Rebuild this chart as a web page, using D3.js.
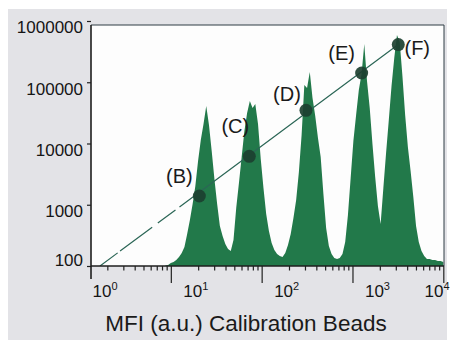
<!DOCTYPE html>
<html>
<head>
<meta charset="utf-8">
<script src="https://cdn.jsdelivr.net/npm/d3@7"></script>
<style>
  body { margin: 0; background: #fff; }
  svg { display: block; font-family: "Liberation Sans", Arial, Helvetica, sans-serif; }
</style>
</head>
<body>
<svg id="chart" width="451" height="340"></svg>
<script>
// histogram: bins on log10(MFI), start + step, counts
const binStart = 0.94;
const binStep = 0.03;
const binCounts = [
  0.5, 1, 3, 4, 6, 9, 13, 19, 32, 46,
  62, 80, 105, 126, 142, 160, 141, 115, 87, 62,
  40, 30, 22, 17, 15, 26, 58, 83, 109, 135,
  153, 165, 158, 162, 142, 107, 78, 52, 35, 23,
  16, 12, 10, 9, 13, 21, 32, 48, 66, 94,
  131, 181, 178, 194, 168, 150, 128, 109, 72, 38,
  20, 12, 8, 7, 8, 12, 24, 51, 88, 125,
  151, 176, 192, 222, 185, 158, 122, 89, 60, 42,
  78, 113, 146, 180, 208, 231, 224, 190, 151, 119,
  95, 69, 40, 24, 15, 10, 7, 7, 6, 6,
  5, 5, 4
];

// calibration beads (peak MFI vs. assigned value)
const beadNames = ["B", "C", "D", "E", "F"];
const beadMfi = [20.6, 73.1, 307.7, 1262, 3193];
const beadValue = [1390, 6180, 34800, 141600, 412000];

// fitted calibration line end points
const fitMfi = [1.66, 3193];
const fitValue = [100, 412000];

const xTicks = [1, 10, 100, 1000, 10000];
const yTicks = [100, 1000, 10000, 100000, 1000000];

const svg = d3.select("#chart");
const plotL = 91, plotR = 444, plotT = 25, plotB = 266;

const x = d3.scaleLog().domain([1, 10000]).range([80, 443.3]);
const y = d3.scaleLog().domain([100, 1000000]).range([266, 21]);
const yCount = d3.scaleLinear().domain([0, 240]).range([266, 26]);

// panel + plot area
svg.append("rect").attr("x", 8).attr("y", 9).attr("width", 439).attr("height", 331)
  .attr("fill", "#e3e3e7");
svg.append("rect").attr("x", plotL).attr("y", plotT)
  .attr("width", plotR - plotL).attr("height", plotB - plotT)
  .attr("fill", "#fdfdfd");

svg.append("clipPath").attr("id", "plotClip")
  .append("rect").attr("x", plotL).attr("y", plotT)
  .attr("width", plotR - plotL).attr("height", plotB - plotT);

const plot = svg.append("g").attr("clip-path", "url(#plotClip)");

// histogram
const bins = binCounts.map((c, i) => ({ mfi: Math.pow(10, binStart + i * binStep), count: c }));
const area = d3.area()
  .x((d) => x(d.mfi))
  .y0(yCount(0))
  .y1((d) => yCount(d.count));
plot.append("path").datum(bins).attr("d", area).attr("fill", "#22794a");

// fit line
const fit = fitMfi.map((m, i) => [m, fitValue[i]]);
plot.append("path")
  .datum(fit)
  .attr("d", d3.line().x((d) => x(d[0])).y((d) => y(d[1])))
  .attr("fill", "none")
  .attr("stroke", "#2b6656")
  .attr("stroke-width", 1.2)
  .attr("stroke-dasharray", "22,3,40,7,22,5,1000");

// beads
const beads = beadNames.map((n, i) => ({ name: n, mfi: beadMfi[i], value: beadValue[i] }));
plot.selectAll("circle")
  .data(beads)
  .enter()
  .append("circle")
  .attr("cx", (d) => x(d.mfi))
  .attr("cy", (d) => y(d.value))
  .attr("r", 6.5)
  .attr("fill", "#1c4030")
  .attr("fill-opacity", 0.92);

// label placement next to each bead
const labelShift = { B: [-20, -20], C: [-14, -30], D: [-19, -16], E: [-20, -20], F: [19, 3] };
svg.selectAll(".beadLabel")
  .data(beads)
  .enter()
  .append("text")
  .attr("class", "beadLabel")
  .attr("x", (d) => x(d.mfi) + labelShift[d.name][0])
  .attr("y", (d) => y(d.value) + labelShift[d.name][1])
  .attr("dy", "0.35em")
  .attr("text-anchor", "middle")
  .attr("font-size", 20)
  .attr("fill", "#1a1a1a")
  .text((d) => "(" + d.name + ")");

// y axis
const yAxis = svg.append("g")
  .attr("transform", `translate(${plotL},0)`)
  .call(d3.axisLeft(y).tickValues(yTicks).tickSize(4).tickPadding(4).tickFormat(d3.format("d")));
yAxis.select(".domain").remove();
yAxis.selectAll("line").attr("stroke", "#222").attr("stroke-width", 1.2);
yAxis.selectAll("text")
  .attr("font-size", 17)
  .attr("fill", "#151515")
  .attr("font-family", "Liberation Sans, Arial, sans-serif")
  .attr("y", (d) => (d === 100 ? -6 : 6))
  .attr("dy", "0.35em");

// x axis: minor + major ticks
const minorTicks = [];
for (let p = 0; p < 4; p++) {
  for (let k = 2; k <= 9; k++) minorTicks.push(k * Math.pow(10, p));
}
const visibleMinor = minorTicks.filter((v) => x(v) > plotL + 2 && x(v) <= plotR);

const xMinor = svg.append("g")
  .attr("transform", `translate(0,${plotB})`)
  .call(d3.axisBottom(x).tickValues(visibleMinor).tickSize(4.5).tickFormat(""));
const xMajor = svg.append("g")
  .attr("transform", `translate(0,${plotB})`)
  .call(d3.axisBottom(x).tickValues(xTicks.filter((v) => x(v) > plotL)).tickSize(17).tickFormat(""));
[xMinor, xMajor].forEach((g) => {
  g.select(".domain").remove();
  g.selectAll("line").attr("stroke", "#222").attr("stroke-width", 1.2);
});

// x tick labels (10^n), set to the right of each decade tick
const xl = svg.selectAll(".xLabel")
  .data(xTicks)
  .enter()
  .append("text")
  .attr("class", "xLabel")
  .attr("x", (d) => Math.min(x(d) + 25, 437))
  .attr("y", 297)
  .attr("text-anchor", "middle")
  .attr("fill", "#151515");
xl.append("tspan").attr("font-size", 17).text("10");
xl.append("tspan").attr("font-size", 11).attr("dy", -7)
  .text((d) => Math.round(Math.log10(d)));

// frame
svg.append("path")
  .attr("d", `M${plotL},${plotT}H${plotR}V${plotB}`)
  .attr("fill", "none").attr("stroke", "#2f3d44").attr("stroke-width", 1);
svg.append("line")
  .attr("x1", plotL).attr("x2", plotL).attr("y1", plotT).attr("y2", 279)
  .attr("stroke", "#1e1e1e").attr("stroke-width", 1.6);
svg.append("line")
  .attr("x1", plotL).attr("x2", plotR).attr("y1", plotB).attr("y2", plotB)
  .attr("stroke", "#1e1e1e").attr("stroke-width", 1.6);

// axis title
svg.append("text")
  .attr("x", 246)
  .attr("y", 331)
  .attr("text-anchor", "middle")
  .attr("font-size", 22.5)
  .attr("fill", "#1a1a1a")
  .text("MFI (a.u.) Calibration Beads");
</script>
</body>
</html>
